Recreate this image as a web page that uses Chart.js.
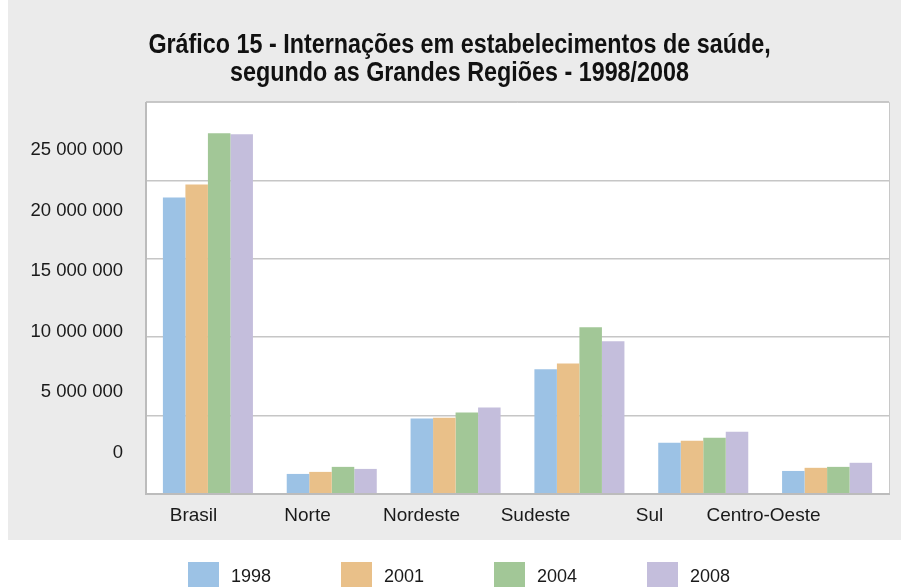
<!DOCTYPE html>
<html>
<head>
<meta charset="utf-8">
<script src="https://cdn.jsdelivr.net/npm/chart.js@4.4.1/dist/chart.umd.min.js"></script>
<style>
  html, body { margin: 0; padding: 0; background: #ffffff; }
  #wrap { width: 901px; height: 587px; position: relative; }
  canvas { display: block; }
</style>
</head>
<body>
<div id="wrap"><canvas id="c" width="901" height="587"></canvas></div>
<script>
// ---- data ----
const categories = ['Brasil', 'Norte', 'Nordeste', 'Sudeste', 'Sul', 'Centro-Oeste'];
const seriesNames = ['1998', '2001', '2004', '2008'];
const values1998 = [18910000, 1280000, 4810000, 7950000, 3270000, 1470000];
const values2001 = [19740000, 1410000, 4870000, 8330000, 3400000, 1670000];
const values2004 = [23010000, 1730000, 5190000, 10640000, 3590000, 1730000];
const values2008 = [22950000, 1600000, 5510000, 9740000, 3970000, 1990000];
const yTickValues = [0, 5000000, 10000000, 15000000, 20000000, 25000000];
const titleLines = ['Gráfico 15 - Internações em estabelecimentos de saúde,', 'segundo as Grandes Regiões - 1998/2008'];

// ---- styles ----
const seriesColors = ['#9cc2e5', '#e9c089', '#a2c797', '#c4bedc'];
const seriesValues = [values1998, values2001, values2004, values2008];
const textColor = '#1a1a1a';
const sansFont = "'Liberation Sans', Arial, sans-serif";
const titleStyle = { font: "bold 28px 'Liberation Sans', Arial, sans-serif", color: '#111111', squeeze: 0.833, line1Above: 49, lineGap: 28 };
const legendSwatch = { w: 31, h: 30 };

function fmt(v) {
  return String(v).replace(/\B(?=(\d{3})+(?!\d))/g, ' ');
}

function swatch(color) {
  const c = document.createElement('canvas');
  c.width = legendSwatch.w; c.height = legendSwatch.h;
  const g = c.getContext('2d');
  g.fillStyle = color;
  g.fillRect(0, 0, c.width, c.height);
  return c;
}
const swatches = seriesColors.map(swatch);

const decorPlugin = {
  id: 'decor',
  afterLayout(chart) {
    const lg = chart.legend;
    const x2 = chart.scales.x2;
    if (lg && x2) {
      const pad = lg.options.labels.padding;
      const dy = (x2.bottom + 28 - pad) - lg.top;
      lg.top += dy;
      lg.bottom = chart.height + 40;
      lg.left -= 2; lg.right -= 2;
    }
  },
  beforeDraw(chart) {
    const { ctx, chartArea: a } = chart;
    const x2 = chart.scales.x2;
    ctx.save();
    ctx.fillStyle = '#ebebeb';
    ctx.fillRect(8, 0, chart.width - 8, x2.bottom);
    ctx.fillStyle = '#ffffff';
    ctx.fillRect(a.left, a.top, a.right - a.left, a.bottom - a.top);
    ctx.restore();
  },
  afterDatasetsDraw(chart) {
    const { ctx, chartArea: a } = chart;
    ctx.save();
    ctx.strokeStyle = '#c8c8c8';
    ctx.lineWidth = 1;
    ctx.beginPath();
    ctx.moveTo(a.left, a.top + 0.5);
    ctx.lineTo(a.right + 0.5, a.top + 0.5);
    ctx.lineTo(a.right + 0.5, a.bottom);
    ctx.stroke();
    ctx.strokeStyle = '#bcbcbc';
    ctx.lineWidth = 2;
    ctx.beginPath();
    ctx.moveTo(a.left, a.top);
    ctx.lineTo(a.left, a.bottom);
    ctx.lineTo(a.right + 1, a.bottom);
    ctx.stroke();
    ctx.restore();
  },
  afterDraw(chart) {
    const { ctx, chartArea: a } = chart;
    const cx = (chart.options.layout.padding.left + a.right) / 2;
    ctx.save();
    ctx.font = titleStyle.font;
    ctx.fillStyle = titleStyle.color;
    ctx.textAlign = 'center';
    ctx.textBaseline = 'alphabetic';
    ctx.translate(cx, 0);
    ctx.scale(titleStyle.squeeze, 1);
    titleLines.forEach((line, i) => {
      ctx.fillText(line, 0, a.top - titleStyle.line1Above + i * titleStyle.lineGap);
    });
    ctx.restore();
  }
};

new Chart(document.getElementById('c'), {
  type: 'bar',
  data: {
    labels: categories,
    datasets: seriesNames.map((name, i) => ({
      label: name,
      data: seriesValues[i],
      backgroundColor: seriesColors[i],
      borderWidth: 0,
      xAxisID: 'x',
      yAxisID: 'y',
      categoryPercentage: 0.727,
      barPercentage: 1.0
    }))
  },
  options: {
    responsive: false,
    animation: false,
    devicePixelRatio: 1,
    events: [],
    layout: { padding: { left: 30, right: 12, top: 102, bottom: 0 } },
    scales: {
      x: {
        type: 'category',
        position: 'bottom',
        offset: true,
        grid: { display: false, drawTicks: false },
        border: { display: false },
        ticks: { display: false },
        afterFit(s) { s.height = 0; }
      },
      y: {
        type: 'linear',
        position: 'left',
        min: 0,
        max: 25000000,
        ticks: { display: false, stepSize: 5000000 },
        grid: { color: '#c6c6c6', lineWidth: 1.5, drawTicks: false },
        border: { display: false },
        afterFit(s) { s.width = 0; }
      },
      x2: {
        type: 'linear',
        position: 'bottom',
        offset: false,
        bounds: 'data',
        min: -0.41667,
        max: 6.1009,
        grid: { display: false, drawTicks: false, offset: false },
        border: { display: false },
        afterBuildTicks(s) { s.ticks = categories.map((c, i) => ({ value: i })); },
        ticks: {
          autoSkip: false,
          maxRotation: 0,
          minRotation: 0,
          padding: 10,
          color: textColor,
          font: { family: sansFont, size: 19 },
          callback: (v) => categories[v]
        },
        afterFit(s) { s.height = 46; }
      },
      y2: {
        type: 'linear',
        position: 'left',
        bounds: 'data',
        min: -3383000,
        max: 28960000,
        grid: { display: false, drawTicks: false },
        border: { display: false },
        afterBuildTicks(s) { s.ticks = yTickValues.map(v => ({ value: v })); },
        ticks: {
          padding: 23,
          color: textColor,
          font: { family: sansFont, size: 18.5 },
          callback: (v) => fmt(v)
        },
        afterFit(s) { s.width = 116; }
      }
    },
    plugins: {
      title: { display: false },
      legend: {
        display: true,
        position: 'bottom',
        maxHeight: 47,
        labels: {
          usePointStyle: true,
          pointStyleWidth: 37,
          boxHeight: 18,
          padding: 67,
          color: textColor,
          font: { family: sansFont, size: 18 },
          generateLabels(chart) {
            const items = Chart.defaults.plugins.legend.labels.generateLabels(chart);
            items.forEach((it) => { it.pointStyle = swatches[it.datasetIndex]; it.lineWidth = 0; });
            return items;
          }
        }
      },
      tooltip: { enabled: false }
    }
  },
  plugins: [decorPlugin]
});
</script>
</body>
</html>
